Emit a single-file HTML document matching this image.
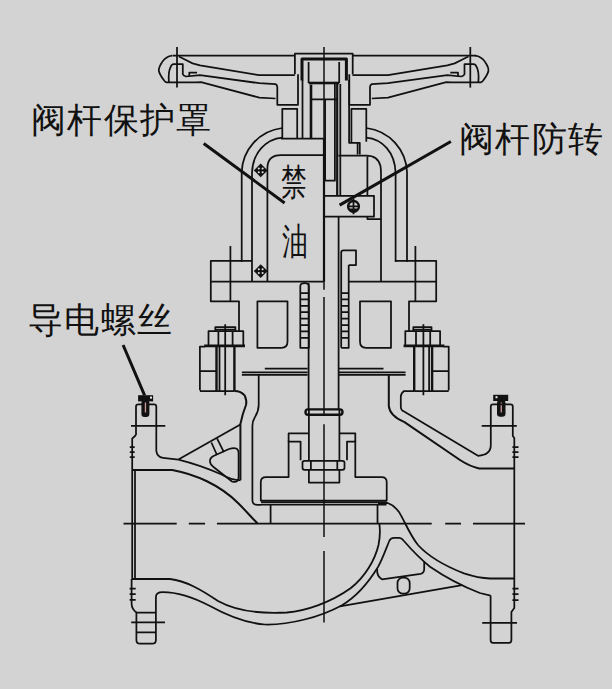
<!DOCTYPE html>
<html><head><meta charset="utf-8">
<style>
html,body{margin:0;padding:0;}
body{width:612px;height:689px;overflow:hidden;background:#d3d3d3;font-family:"Liberation Sans",sans-serif;}
#wrap{position:relative;width:612px;height:689px;}
svg{position:absolute;left:0;top:0;}
.lbl{position:absolute;font-size:34.5px;letter-spacing:1.3px;color:#111;white-space:nowrap;line-height:1;}
.sm{position:absolute;font-size:36.5px;color:#111;line-height:1;transform:scaleX(0.70);transform-origin:0 0;}
</style></head><body><div id="wrap">
<svg width="612" height="689" viewBox="0 0 612 689">
<g fill="none" stroke="#111" stroke-width="1.75" stroke-linejoin="round" stroke-linecap="butt">
<!-- HANDWHEEL -->
<path d="M172.6,55.6 H294.9 M352.5,55.6 H476"/>
<path d="M294.9,74.3 V53.6 H352.7 V74.3"/>
<path d="M302,80.4 V58.9 H346.4 V80.4" stroke-width="3"/>
<!-- left knob + spokes -->
<path d="M172.3,55.6 C168,56 164,59 161.9,62.4 C159.5,66 158.5,69 158.9,71 C159.5,74 161.5,77 163.8,80.1 Q165,82 166.5,82.4 H196 L201,82.2 L259.3,97.6 L275.5,98.5"/>
<path d="M178.9,56.5 L185.4,59.8 L192.6,63.4 L200,65.3 L259.3,75.2 H294.9"/>
<path d="M169,82.4 C168.3,76 169,69 171.7,65 Q172.5,64.2 174,64.2 H182.8 V74.2 Q183.5,76 186,76.5 L200,75.2 L259.3,83.2 L275.5,84.1 Q277.3,85 277.3,87 V104.8 H298 V74.3"/>
<path d="M189.3,76.3 V72.5 H197"/>
<path d="M177,47 V87.6"/>
<!-- right knob + spokes (mirror) -->
<path d="M475.0,55.6 C479.3,56 483.3,59 485.4,62.4 C487.8,66 488.8,69 488.4,71 C487.8,74 485.8,77 483.5,80.1 Q482.3,82 480.8,82.4 H451.3 L446.3,82.2 L388.0,97.6 L371.8,98.5"/>
<path d="M468.4,56.5 L461.9,59.8 L454.7,63.4 L447.3,65.3 L388.0,75.2 H352.4"/>
<path d="M478.3,82.4 C479.0,76 478.3,69 475.6,65 Q474.8,64.2 473.3,64.2 H464.5 V74.2 Q463.8,76 461.3,76.5 L447.3,75.2 L388.0,83.2 L371.8,84.1 Q370.0,85 370.0,87 V104.8 H349.3 V74.3"/>
<path d="M458.0,76.3 V72.5 H450.3"/>
<path d="M470.3,47 V87.6"/>
<!-- BONNET NECK / STEM TOP -->
<path d="M282.3,138.5 V108.8 H297.2 V138.5"/>
<path d="M351.4,142 V108.8 H366.3 V141.7"/>
<path d="M302.5,80 V138.5"/>
<path d="M311,84.6 V138.5" stroke-width="2.6"/>
<path d="M308.6,83 H339.2" stroke-width="2.6"/>
<path d="M311,99.3 H337.4 M308.6,62 V83 M339.2,62 V83"/>
<path d="M337.2,84 V195.8" stroke-width="2.2"/>
<path d="M334.9,84 V180.7 H325.1 V99.3"/>
<path d="M340.3,84 V195.8 M349.1,80 V142.8 H359.8 V154.5 M357.6,142.8 V154.5"/>
<path d="M281,138.5 H323.7"/>
<path d="M324,138.5 V281.7" stroke-width="2.2"/>
<!-- BONNET ARCS LEFT -->
<path d="M241.7,262 V172 C242.6,150 258.6,131 282.3,128"/>
<path d="M252,281.7 V173 C252.6,152 266.6,139 282.3,137.6"/>
<path d="M267.4,281.7 V168 Q267.4,155 281,155 H324"/>
<!-- BONNET ARCS RIGHT -->
<path d="M407,262 V172 C406,150 390,131 366.3,128"/>
<path d="M395.6,262 V173 C395,152 382,139 366.3,137.6"/>
<path d="M338.4,155.5 H366.3 Q378,155.5 380.5,166 Q381,169 381,175 V281.7 M381,219 H367.4 V216.7 M367.4,195.8 V156"/>
<!-- anti-rotation block -->
<path d="M324.4,195.8 H374 V216.7 H324.4"/>
<!-- small nut on stem -->
<path d="M341.2,347.8 V252.5 Q341.2,250.3 343.5,250.3 H356 V265 H348.7"/>
<!-- LEFT FLANGE -->
<path d="M252,260.8 H210.8 V301.3 H239 V331"/>
<path d="M210.8,281.7 H323.6"/>
<path d="M230.4,246 V301.3"/>
<!-- RIGHT FLANGE -->
<path d="M395.8,260.8 H436.2 V301.3 H409 V332"/>
<path d="M348.7,281.7 H436.2"/>
<path d="M415.4,246 V301.3"/>
<!-- glands -->
<path d="M257.4,301.3 H287.5 V341.8 Q287.5,347.8 281.5,347.8 H257.4 Z"/>
<path d="M391,301.3 H360 V341.8 Q360,347.8 366,347.8 H391 Z"/>
<!-- packing -->
<path d="M300.3,347.8 V286 Q300.3,283 304.6,283 Q308.9,283 308.9,286 V347.8 Z M300.3,293 H308.9 M300.3,299.4 H308.9 M300.3,305.8 H308.9 M300.3,312.2 H308.9 M300.3,318.6 H308.9 M300.3,325 H308.9 M300.3,331.4 H308.9 M300.3,337.8 H308.9"/>
<path d="M348.7,265 V347.8 H341.2 M341.2,293.0 H348.7 M341.2,299.4 H348.7 M341.2,305.8 H348.7 M341.2,312.2 H348.7 M341.2,318.6 H348.7 M341.2,325.0 H348.7 M341.2,331.4 H348.7 M341.2,337.8 H348.7"/>
<path d="M308.6,283 V410 M338.6,217 V410"/>
<!-- gasket lines -->
<path d="M264.8,368.7 H307.6 M339,368.7 H383.5 M241.9,372.4 H307.6 M339,372.4 H405.6 M241.9,374.9 H307.6 M339,374.9 H405.6"/>
<!-- LEFT BOLT -->
<path d="M215.3,331 V327.1 H235.4 V331 M215.3,329.5 H235.4"/>
<path d="M208.5,345.9 V331 H243.3 V345.9 M218.4,331 V345.9 M232.6,331 V345.9"/>
<path d="M204.2,345.9 H245" stroke-width="2.6"/>
<path d="M199.9,390.3 V346.5 H205 M199.9,371.2 H216.5 M199.9,391 H234.4"/>
<path d="M216.5,345.9 V391 M234.4,345.9 V391" stroke-width="2.4"/>
<path d="M225.2,324.3 V395.2 M219.5,346 V391"/>
<!-- RIGHT BOLT -->
<path d="M413.3,331 V327.1 H431.5 V331 M413.3,329.5 H431.5"/>
<path d="M405.3,345.9 V331 H440.1 V345.9 M416,331 V345.9 M430.2,331 V345.9"/>
<path d="M403.6,345.9 H444.4" stroke-width="2.6"/>
<path d="M448.7,390.3 V346.5 H443.6 M448.7,371.2 H432.1 M448.7,391 H414.2"/>
<path d="M432.1,345.9 V391 M414.2,345.9 V391" stroke-width="2.4"/>
<path d="M423.4,324.3 V395.2 M429.1,346 V391"/>


<!-- BODY LEFT -->
<path d="M136,435 V406.5 Q136,404.3 138.5,404.3 H154 Q156.3,404.3 156.3,406.5 V450.8 Q157,457 163,457.8 L178.4,459.6"/>
<path d="M136,435 L132.2,438.6 V578.4 M135,469.9 V578.4"/>
<path d="M129.8,447 H134.7 M129.8,452 H134.7 M129.8,457 H134.7 M129.6,588.5 H135.7 M129.6,594 H135.7 M129.6,599.8 H135.7"/>
<path d="M131,425.9 H165.3"/>
<path d="M178.4,459.6 L240.4,424.4"/>
<path d="M234.4,391 Q241,391 244.8,395.6 Q247,401 246,405 Q242.4,414 240.4,424 V480.3" stroke-width="2"/>
<path d="M178.4,459.6 Q200,465 221,474.2 Q232,480.3 240.4,480.3"/>
<path d="M210,462 Q209.5,458 213.5,456 L229,449 Q238.6,446 238.6,453 V477 Q238.6,483.5 232,481.5 L213.5,467 Q210.5,465 210,462 Z"/>
<path d="M211.4,442.5 L217,455 M217,438.3 L223.9,452.2"/>
<path d="M132.3,469.9 H172.3 C195,474 220,485 238,503 C247,512 252,518 257.6,523.5" stroke-width="2"/>
<path d="M258.7,374.6 V405 Q258.7,411 255,417 Q252.4,421 252.4,426 V500.2 Q252.4,504.9 257.6,504.9 H261"/>
<!-- left lower flange -->
<path d="M131.6,579 H170 C186,581 200,589 218,601 C236,611 260,614 287,612.5 C305,611 330,603 350.6,588.3 C365,577 375,560 378.5,545 C380.5,535 380,528 379.3,523.6" stroke-width="1.8"/>
<path d="M131.6,579 V604 Q131.8,609 136.4,612.5 V640 Q136.4,643.7 140,643.7 H152.3 Q155.9,643.7 155.9,640 V597 Q155.9,592 162.7,592 C180,592 195,598 210,606 C228,616 245,623 265,624.5 C290,625 320,617 341.6,605.4 C358,596 370,580 378,567 C383,558 387,546 389.5,540.5 Q391,537.8 394,537.8 H399.5 Q402,538 403.5,540.5 C410,548 418,557 430,566.7 C445,577 462,586 479.8,593 L490.6,595.6"/>
<path d="M136.4,612.5 H155.9 M136.4,632.4 H155.9"/>
<path d="M131.2,622.4 H165"/>
<!-- grounding screws -->
<rect x="138.1" y="395.2" width="15" height="6.2" fill="#111" stroke="none"/>
<rect x="150" y="396.6" width="2" height="2" fill="#eee" stroke="none"/>
<rect x="141.4" y="400" width="8" height="17" rx="3" fill="#111" stroke="none"/>
<rect x="144.8" y="402.5" width="1.3" height="10" fill="#c99" stroke="none"/>
<rect x="493.2" y="394.8" width="15" height="6.2" fill="#111" stroke="none"/>
<rect x="495.5" y="396.2" width="2" height="2" fill="#eee" stroke="none"/>
<rect x="497" y="400" width="8.5" height="16.8" rx="3.2" fill="#111" stroke="none"/>
<rect x="500.6" y="402.5" width="1.3" height="10" fill="#c99" stroke="none"/>
<!-- BODY RIGHT -->
<path d="M388.8,375 V405.8 Q389.5,416 404.5,422.1 L460,460 Q470,466.5 479.2,468.4 H514.3" stroke-width="2"/>
<path d="M414.2,391 H404 Q400.8,393.3 400.8,397 V406.8 Q401,411 404.5,411.7 L478,455.8 Q490.8,455 490.8,445 V406.5 Q490.8,404.3 493,404.3 H510.5 Q512.8,404.3 512.8,406.5 V436 L514.3,438 V578.9"/>
<path d="M481.7,425.9 H516.8"/>
<path d="M512.4,447.2 H518.5 M512.4,452.1 H518.5 M512.4,457 H518.5 M512.4,588.6 H518.5 M512.4,594.2 H518.5 M512.4,600 H518.5"/>
<path d="M378,503 H387.6 Q394,505 399.4,512.6 C405,522 410,535 418,545 C428,556 445,566 464,573.4 C475,577 483,578.3 490,578.5 H514.3" stroke-width="1.8"/>
<path d="M490.6,595.6 V640 Q490.6,642.8 493,642.8 H509 Q511.4,642.8 511.4,640 V612 L514.3,608 V578.9"/>
<path d="M482.2,622.8 H517"/>
<path d="M377.2,569 Q376.5,576 382,579.3 L420.6,573.9 Q424.2,573 424.2,569 V561.5"/>
<path d="M339.8,606.3 L462.2,585.2"/>
<rect x="397.5" y="577.5" width="12.2" height="16.2" rx="5.5"/>
<!-- DISC / STEM LOWER -->
<path d="M308.9,410 V460.3 M339.4,410 V460.3"/>
<path d="M308,409.4 H340 Q342.5,409.4 342.5,412 Q342.5,414.8 340,414.8 H308 Q305.5,414.8 305.5,412 Q305.5,409.4 308,409.4 Z" stroke-width="2.4"/>
<path d="M300.6,460.3 V441.5 H288.6 V433.3 H308.9 M339,433.3 H355.3 V441.5 H347 V460.3"/>
<rect x="302.5" y="460.8" width="42" height="9" rx="2"/>
<path d="M310.9,460.8 V469.8 M337.3,460.8 V469.8"/>
<path d="M308.9,470 V482.5 H339.4 V470"/>
<path d="M288.6,440.8 V477 H266 Q260.8,477 260.8,482 V500.6 H386.7 V482 Q386.7,477 381.5,477 H355.3 V440.8"/>
<path d="M261,502 H386.5 M261,504.7 H386.5"/>
<path d="M270.6,504.7 V523 M377.5,504.7 V523"/>
<!-- horizontal centerline -->
<path d="M123.5,523.6 H176.7 M188.8,523.6 H205.1 M216.9,523.6 H431.7 M445.2,523.6 H461 M473,523.6 H525" stroke-width="1.8"/>


<!-- LEADERS -->
<path d="M203.7,143.5 L284.6,203 M450.9,141.5 L339.6,205.1 M123.1,345 L144.6,395.4" stroke-width="3"/>
<!-- diamonds -->
<g stroke="none">
<path d="M260.7,163.5 L267.59999999999997,170.4 L260.7,177.3 L253.79999999999998,170.4 Z" fill="#111"/>
<circle cx="258.8" cy="168.5" r="1.05" fill="#e2e2e2"/><circle cx="262.6" cy="168.5" r="1.05" fill="#e2e2e2"/><circle cx="258.8" cy="172.3" r="1.05" fill="#e2e2e2"/><circle cx="262.6" cy="172.3" r="1.05" fill="#e2e2e2"/>
<path d="M260.7,264.20000000000005 L267.59999999999997,271.1 L260.7,278.0 L253.79999999999998,271.1 Z" fill="#111"/>
<circle cx="258.8" cy="269.2" r="1.05" fill="#e2e2e2"/><circle cx="262.6" cy="269.2" r="1.05" fill="#e2e2e2"/><circle cx="258.8" cy="273.0" r="1.05" fill="#e2e2e2"/><circle cx="262.6" cy="273.0" r="1.05" fill="#e2e2e2"/>
</g>
<circle cx="353.5" cy="206.4" r="5.4" stroke-width="2.3"/>
<path d="M348.6,208.5 A5,5 0 0 0 358.4,208.5 Z" fill="#111" stroke="none"/>
<path d="M353.5,198.8 V214.2 M347.5,206.4 H359.5" stroke-width="1.8"/>

<!-- centerline -->
<path d="M324,47 V289.7 M324,297 V415 M324,424.3 V537 M324,551 V622.5" stroke-width="1.5"/>
</g>
</svg>
<div class="lbl" style="left:31px;top:103px">阀杆保护罩</div>
<div class="lbl" style="left:459px;top:122.3px">阀杆防转</div>
<div class="lbl" style="left:28px;top:302.8px">导电螺丝</div>
<div class="sm" style="left:281px;top:165px">禁</div>
<div class="sm" style="left:282px;top:224px">油</div>
</div></body></html>
